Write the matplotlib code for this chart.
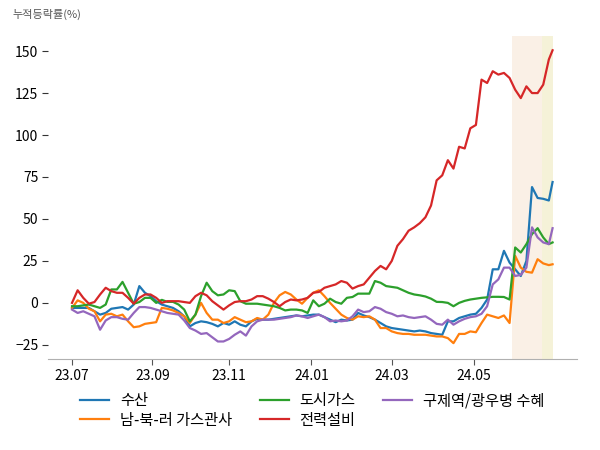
import matplotlib
matplotlib.use("Agg")
import matplotlib.pyplot as plt
import numpy as np

plt.rcParams['font.family'] = ['Noto Sans CJK KR', 'DejaVu Sans']

# trading-day index of samples (every 3 trading days, last one at 257)
x_idx = list(range(0, 256, 3)) + [257]

s_blue = [-3, -3, -3, -3, -5, -7, -6, -3.5, -3, -2.5, -4, -1, 10, 6, 4, 1, -1, -2, -3, -5,
          -8, -14, -12, -11, -11.5, -12.5, -14, -12, -13, -11, -13, -14, -11, -9.5, -10, -10, -9.5, -9, -8.5, -8,
          -7.5, -8, -7.5, -7, -7, -8.5, -10, -11.5, -10, -10.5, -10, -6, -7.5, -8.5, -10, -12, -14, -15, -15.5, -16,
          -16.5, -17, -16.5, -17, -18, -18.5, -19, -11, -11, -9, -8, -7, -6.5, -3, 2, 20, 20, 31, 24, 20,
          16, 25, 69, 62.5, 62, 61, 72]
s_orange = [-3, 1.5, 0, -3.5, -5, -11, -7, -6.5, -8, -7, -11, -14.5, -14, -12.5, -12, -11.5, -3, -3.5, -4.5, -6,
            -8, -12, -7, 0, -6, -10, -10, -12, -11, -8.5, -10, -11.5, -11, -9, -10, -7, 0, 4.5, 6.5, 5,
            2, -0.5, 3, 6, 7.5, 4, 0, -3.5, -7, -9, -10, -8, -8.5, -8, -10, -15, -15, -17, -18, -18.5,
            -18.5, -19, -19, -19, -19.5, -20, -20, -21, -24, -18.5, -18.5, -17, -17.5, -12, -7, -8, -9, -7.5, -12, 28,
            21, 18.5, 18, 26, 23.5, 22.5, 23]
s_green = [-2, -2, -1.5, -1, -2, -3, -1, 8, 8, 12.5, 6, -0.5, 0.5, 3, 3, 0, 1.8, 0.6, 0.6, -1,
           -4, -11, -7, 4, 12, 7, 4.5, 5, 7.5, 7, 1, -0.5, -0.5, -0.5, -1, -1.5, -2, -3, -4.5, -4,
           -4, -4.5, -6, 1.5, -2, -0.5, 2.5, 0.5, -0.5, 3, 3.5, 5.5, 5.5, 5.5, 13, 12, 10, 9.5, 9, 7.5,
           6, 5, 4.5, 3.8, 2.5, 0.6, 0.5, 0, -2, 0, 1.2, 2, 2.5, 3, 3.3, 3.6, 3.6, 3.5, 2, 33,
           30, 35, 41, 44.5, 39, 35, 36]
s_red = [0, 7.5, 3, -0.5, 0.5, 5, 9, 7, 6, 6, 3, -0.5, 3, 5, 5, 3, 0, 1, 1, 1,
         0.5, 0, 4, 6, 4.5, 1, -1.5, -4, -1.5, 0.5, 1, 1, 2, 4, 4, 2.5, 0.5, -2, 0.5, 2,
         1.5, 2, 3, 6, 6.5, 9, 10, 11, 13, 12, 8.5, 10, 11, 15, 19, 22, 20, 25, 34, 38,
         43, 45, 47.5, 51, 58, 73, 76, 85, 80, 93, 92, 104, 106, 133, 131, 138, 136, 137, 134, 127,
         122, 129, 125, 125, 130, 145, 150.5]
s_purple = [-4, -6, -5, -6.5, -8, -16, -10.5, -8.5, -8.5, -9.5, -10, -6, -2.5, -2.5, -3, -4, -5, -6, -6.5, -7,
            -10.5, -15, -16.5, -18.5, -18, -20.5, -23, -23, -21.5, -19, -17, -19.5, -14, -11, -10, -10, -10, -9.5, -9, -8.5,
            -7.5, -8, -9, -8, -7, -8.5, -11, -10.5, -11, -10.5, -8, -4, -5.5, -5, -2.5, -3.5, -5.5, -6.5, -8, -7.5,
            -8.5, -9, -8.5, -8, -10, -12.5, -13, -10, -13, -11, -9.5, -8.5, -8, -6.5, -2, 11, 14, 21, 21, 16,
            16.7, 21, 45, 39, 36, 35, 44.5]

series_names = ['수산', '남-북-러 가스관사', '도시가스', '전력설비', '구제역/광우병 수혜']
series_vals = [s_blue, s_orange, s_green, s_red, s_purple]
series_colors = ['#1f77b4', '#ff7f0e', '#2ca02c', '#d62728', '#9467bd']

tick_pos = [0, 43, 84, 128, 171, 215]
tick_labels = ['23.07', '23.09', '23.11', '24.01', '24.03', '24.05']

span1 = (235.5, 251.5)
span2 = (251.5, 257.0)

fig = plt.figure(figsize=(6, 4.5), dpi=100)
ax = fig.add_axes([0.08, 0.202, 0.881, 0.718])

ax.axvspan(span1[0], span1[1], color='#faf0e6', zorder=0, lw=0)
ax.axvspan(span2[0], span2[1], color='#f5f2d8', zorder=0, lw=0)

for name, vals, c in zip(series_names, series_vals, series_colors):
    ax.plot(x_idx, vals, color=c, lw=1.6, label=name)

ax.set_xlim(-0.05 * 257, 1.05 * 257)
ax.set_ylim(-33.5, 159)
ax.set_yticks([-25, 0, 25, 50, 75, 100, 125, 150])
ax.set_xticks(tick_pos)
ax.set_xticklabels(tick_labels)

for sp in ['top', 'right', 'left']:
    ax.spines[sp].set_visible(False)
ax.spines['bottom'].set_color('#b0b0b0')
ax.tick_params(axis='y', length=4, color='#333333', labelsize=10, pad=3)
ax.tick_params(axis='x', length=4, color='#555555', labelsize=10, pad=3)

fig.text(0.02, 0.968, '누적등락률(%)', fontsize=8, color='#555555', ha='left', va='center')

leg = ax.legend(loc='upper center', bbox_to_anchor=(0.5, -0.06), ncol=3, frameon=False,
                fontsize=11, handlelength=1.9, columnspacing=1.8, handletextpad=0.7,
                labelspacing=0.15)

fig.savefig('out.png', dpi=100)
